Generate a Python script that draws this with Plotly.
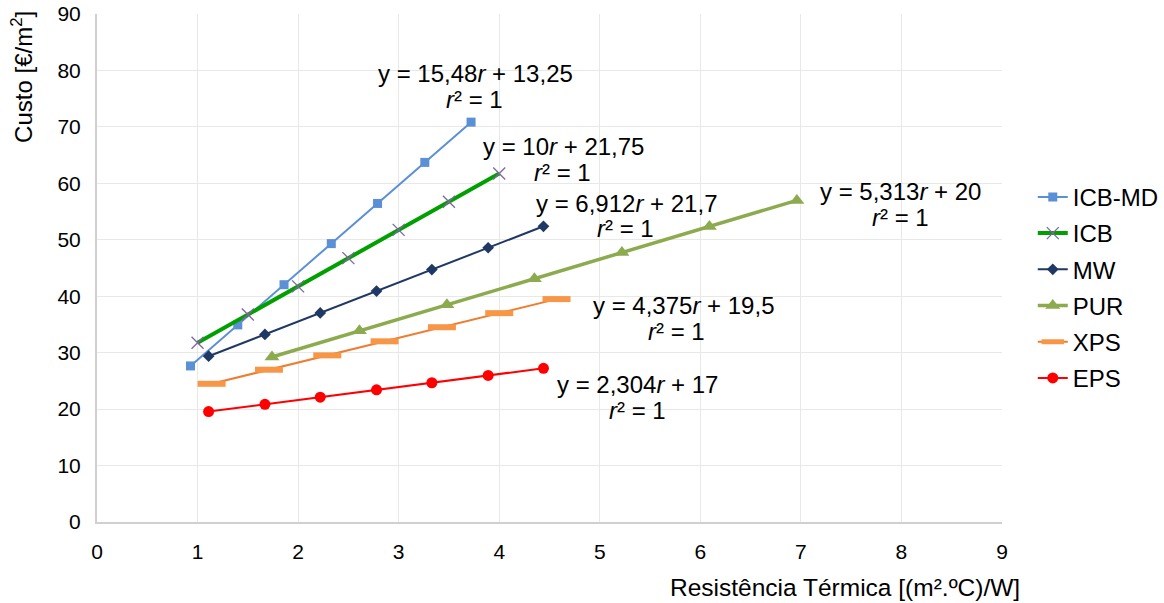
import plotly.graph_objects as go

# Thermal resistance r [(m2.ºC)/W] and cost [€/m2] for each insulation material
r_icb_md = [0.93, 1.40, 1.86, 2.33, 2.79, 3.26, 3.72]
c_icb_md = [27.65, 34.92, 42.04, 49.32, 56.44, 63.71, 70.84]

r_icb = [1.00, 1.50, 2.00, 2.50, 3.00, 3.50, 4.00]
c_icb = [31.75, 36.75, 41.75, 46.75, 51.75, 56.75, 61.75]

r_mw = [1.11, 1.67, 2.22, 2.78, 3.33, 3.89, 4.44]
c_mw = [29.37, 33.24, 37.04, 40.92, 44.72, 48.59, 52.39]

r_pur = [1.74, 2.61, 3.48, 4.35, 5.22, 6.09, 6.96]
c_pur = [29.24, 33.87, 38.49, 43.11, 47.73, 52.36, 56.98]

r_xps = [1.14, 1.71, 2.29, 2.86, 3.43, 4.00, 4.57]
c_xps = [24.49, 26.98, 29.52, 32.01, 34.51, 37.00, 39.49]

r_eps = [1.11, 1.67, 2.22, 2.78, 3.33, 3.89, 4.44]
c_eps = [19.56, 20.85, 22.11, 23.41, 24.67, 25.96, 27.23]

x_ticks = [0, 1, 2, 3, 4, 5, 6, 7, 8, 9]
y_ticks = [0, 10, 20, 30, 40, 50, 60, 70, 80, 90]

# Linear trend equations shown beside each series:
# (equation, x, y of equation, x, y of r² line)
equations = [
    ("y = 15,48<i>r</i> + 13,25", 3.76, 79.4, 3.75, 74.8),
    ("y = 10<i>r</i> + 21,75", 4.64, 66.6, 4.63, 62.0),
    ("y = 6,912<i>r</i> + 21,7", 5.27, 56.5, 5.26, 52.0),
    ("y = 5,313<i>r</i> + 20", 7.99, 58.5, 7.99, 54.0),
    ("y = 4,375<i>r</i> + 19,5", 5.83, 38.3, 5.76, 33.7),
    ("y = 2,304<i>r</i> + 17", 5.38, 24.3, 5.38, 19.7),
]

FONT = "Liberation Sans, Arial, sans-serif"

fig = go.Figure()

fig.add_trace(go.Scatter(
    x=r_icb_md, y=c_icb_md, name="ICB-MD", mode="lines+markers", legendgroup="a",
    line=dict(color="#5B8FD6", width=2),
    marker=dict(symbol="square", size=9, color="#5B8FD6"),
))
fig.add_trace(go.Scatter(
    x=r_icb, y=c_icb, name="ICB", mode="lines+markers", legendgroup="b",
    line=dict(color="#00A000", width=4),
    marker=dict(symbol="x-thin", size=12, color="#8064A2",
                line=dict(color="#8064A2", width=1.3)),
))
fig.add_trace(go.Scatter(
    x=r_mw, y=c_mw, name="MW", mode="lines+markers", legendgroup="c",
    line=dict(color="#1F3864", width=2),
    marker=dict(symbol="diamond", size=9, color="#1F3864"),
))
fig.add_trace(go.Scatter(
    x=r_pur, y=c_pur, name="PUR", mode="lines+markers", legendgroup="d",
    line=dict(color="#8CAA4E", width=3.5),
    marker=dict(symbol="triangle-up", size=13, color="#8CAA4E"),
))
fig.add_trace(go.Scatter(
    x=r_xps, y=c_xps, name="XPS", mode="lines+markers", legendgroup="e",
    line=dict(color="#ED7D31", width=2),
    marker=dict(symbol="line-ew", size=20, color="#F79646",
                line=dict(color="#F79646", width=6)),
))
fig.add_trace(go.Scatter(
    x=r_eps, y=c_eps, name="EPS", mode="lines+markers", legendgroup="f",
    line=dict(color="#FF0000", width=2),
    marker=dict(symbol="circle", size=11, color="#FF0000"),
))

for eq, xe, ye, xr, yr in equations:
    fig.add_annotation(x=xe, y=ye, text=eq, showarrow=False,
                       font=dict(family=FONT, size=24, color="#000000"))
    fig.add_annotation(x=xr, y=yr, text="<i>r</i>² = 1", showarrow=False,
                       font=dict(family=FONT, size=24, color="#000000"))

fig.add_annotation(xref="paper", yref="paper", x=-0.083, y=0.876,
                   xanchor="center", yanchor="middle",
                   text="Custo [€/m<sup>2</sup>]", textangle=-90, showarrow=False,
                   font=dict(family=FONT, size=24, color="#000000"))
fig.add_annotation(xref="paper", yref="paper", x=1.022, y=-0.128,
                   xanchor="right", yanchor="middle",
                   text="Resistência Térmica [(m².ºC)/W]", showarrow=False,
                   font=dict(family=FONT, size=24.5, color="#000000"))

fig.update_xaxes(
    range=[0, 9], tickvals=x_ticks, ticktext=[str(v) for v in x_ticks],
    showgrid=True, gridcolor="#E8E8E8", gridwidth=1,
    showline=True, linecolor="#D0D0D0", linewidth=2,
    zeroline=False, ticks="", ticklabelstandoff=10,
    tickfont=dict(family=FONT, size=21, color="#000000"),
)
fig.update_yaxes(
    range=[0, 90], tickvals=y_ticks, ticktext=[str(v) for v in y_ticks],
    showgrid=True, gridcolor="#E8E8E8", gridwidth=1,
    showline=True, linecolor="#D0D0D0", linewidth=2,
    zeroline=False, ticks="", ticklabelstandoff=10,
    tickfont=dict(family=FONT, size=21, color="#000000"),
)

fig.update_layout(
    width=1164, height=603,
    margin=dict(l=97, r=162, t=14, b=81, autoexpand=False),
    paper_bgcolor="#FFFFFF", plot_bgcolor="#FFFFFF",
    font=dict(family=FONT, color="#000000"),
    showlegend=True,
    legend=dict(x=1.034, y=0.461, xanchor="left", yanchor="middle",
                font=dict(family=FONT, size=24, color="#000000"),
                bgcolor="rgba(0,0,0,0)", itemwidth=30, tracegroupgap=2,
                traceorder="grouped"),
)

fig.write_html("out.html")
